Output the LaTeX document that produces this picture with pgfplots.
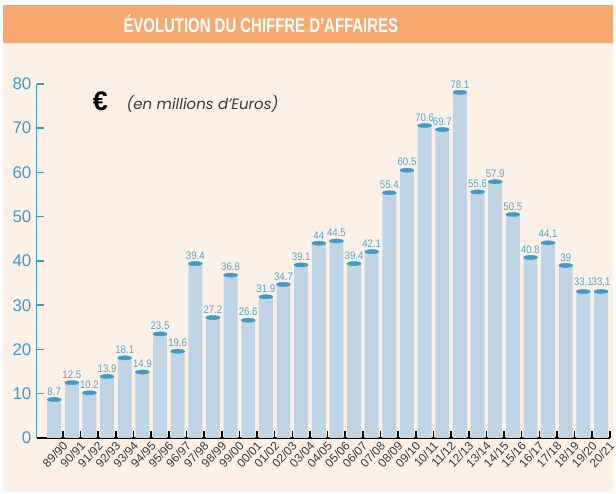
\documentclass[border=0pt]{standalone}
\usepackage{pgfplots}
\pgfplotsset{compat=1.18}
\usepackage{pgfplotstable}
\usepackage{fontspec}
\setmainfont{Liberation Sans}
\newfontfamily\headfont[FakeStretch=0.75]{Liberation Sans}
\newfontfamily\lblfont[FakeStretch=0.88]{Liberation Sans}
\newfontfamily\subfont{Poppins}
\definecolor{headorange}{HTML}{F7A970}
\definecolor{cream}{HTML}{FDF0E6}
\definecolor{barblue}{HTML}{BFD5E6}
\definecolor{capblue}{HTML}{3E9CC6}
\definecolor{axblue}{HTML}{3C9DC8}
\definecolor{lblblue}{HTML}{52A7CE}
\definecolor{xgray}{HTML}{3A3A3A}
\pgfplotstableread{
x y lab
0 8.7 8.7
1 12.5 12.5
2 10.2 10.2
3 13.9 13.9
4 18.1 18.1
5 14.9 14.9
6 23.5 23.5
7 19.6 19.6
8 39.4 39.4
9 27.2 27.2
10 36.8 36.8
11 26.6 26.6
12 31.9 31.9
13 34.7 34.7
14 39.1 39.1
15 44 44
16 44.5 44.5
17 39.4 39.4
18 42.1 42.1
19 55.4 55.4
20 60.5 60.5
21 70.6 70.6
22 69.7 69.7
23 78.1 78.1
24 55.6 55.6
25 57.9 57.9
26 50.5 50.5
27 40.8 40.8
28 44.1 44,1
29 39 39
30 33.1 33,1
31 33.1 33,1
}\datatable
\begin{document}
\begin{tikzpicture}
\path (0,0) rectangle (616bp,496bp);
\fill[cream] (3.3bp,1.5bp) rectangle (616bp,453bp);
\fill[headorange] (3.3bp,453bp) rectangle (616bp,491bp);
\node[text=white, font=\headfont\bfseries\fontsize{20bp}{22bp}\selectfont] at (262bp,472bp) {ÉVOLUTION DU CHIFFRE D’AFFAIRES};
\node[anchor=west, inner sep=0pt, font=\fontsize{27bp}{28bp}\selectfont] at (93bp,394bp) {\textbf{€}};
\node[anchor=west, inner sep=0pt, text=xgray, font=\subfont\itshape\fontsize{15bp}{17bp}\selectfont] at (127bp,392bp) {(en millions d’Euros)};
\begin{axis}[
  at={(36.7bp,56bp)}, anchor=south west,
  scale only axis, width=576bp, height=355.7bp,
  xmin=-1, xmax=31.5, ymin=0, ymax=80,
  clip=false,
  axis x line=bottom, axis y line=left,
  x axis line style={-, black, line width=2bp},
  y axis line style={-, axblue, line width=1.8bp},
  tick align=inside,
  ytick={0,10,...,80},
  major tick length=8bp,
  ytick style={axblue, line width=1.6bp},
  yticklabel style={text=axblue, font=\fontsize{17bp}{18bp}\selectfont, inner sep=1bp, xshift=-4bp},
  xtick={0,...,31},
  xticklabels={89/90,90/91,91/92,92/93,93/94,94/95,95/96,96/97,97/98,98/99,99/00,00/01,01/02,02/03,03/04,04/05,05/06,06/07,07/08,08/09,09/10,10/11,11/12,12/13,13/14,14/15,15/16,16/17,17/18,18/19,19/20,20/21},
  major x tick style={draw=none},
  minor xtick={0.5,1.5,...,31.5},
  minor tick length=7bp,
  minor x tick style={black, line width=1.6bp},
  xticklabel style={rotate=47, anchor=north east, text=xgray, font=\fontsize{12bp}{13bp}\selectfont, xshift=4bp, yshift=-7bp, inner sep=0.5bp},
  /pgf/number format/assume math mode=true,
]
\addplot[ybar, bar width=14bp, fill=barblue, draw=none] table[x=x, y=y] {\datatable};
\addplot[only marks, mark=*, mark size=7bp, mark options={yscale=0.3, fill=capblue, draw=capblue},
  nodes near coords, point meta=explicit symbolic,
  every node near coord/.append style={text=lblblue, font=\lblfont\fontsize{11bp}{12bp}\selectfont, inner sep=1bp, yshift=3bp}]
  table[x=x, y=y, meta=lab] {\datatable};
\end{axis}
\end{tikzpicture}
\end{document}
